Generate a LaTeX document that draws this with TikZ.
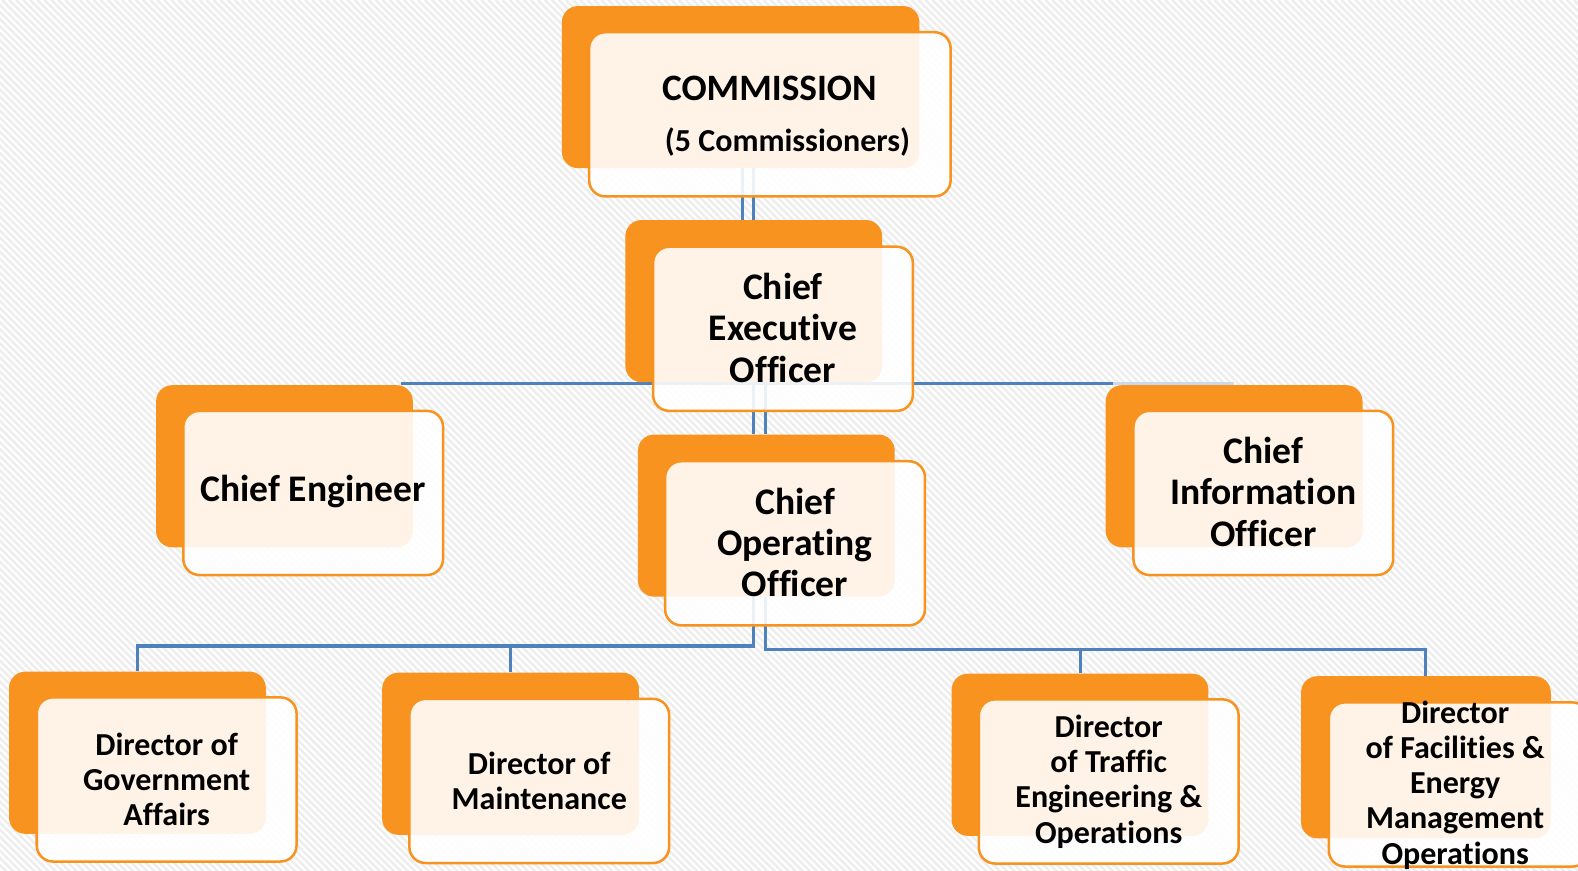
\documentclass[tikz,border=0pt]{standalone}
\usepackage{fontspec}
\setmainfont{Carlito}[Ligatures=NoCommon]
\usetikzlibrary{calc}
\definecolor{orng}{HTML}{F7931E}
\definecolor{connc}{HTML}{4F81BD}
\definecolor{hatchc}{HTML}{EEEEEE}
\pgfdeclarelayer{base}
\pgfdeclarelayer{lines}
\pgfsetlayers{base,lines,main}
\begin{document}
\begin{tikzpicture}[x=1pt,y=-1pt,
  backbox/.style={fill=orng, rounded corners=16pt, minimum width=255pt, minimum height=161pt, inner sep=0pt},
  frontbox/.style={draw=orng, line width=2.5pt, fill=white, fill opacity=0.89, rounded corners=16pt, minimum width=258pt, minimum height=163pt, inner sep=0pt},
  bigtxt/.style={align=center, inner sep=0pt, font=\bfseries\fontsize{37.3}{41}\selectfont},
  dirtxt/.style={align=center, inner sep=0pt, font=\bfseries\fontsize{31.8}{35}\selectfont},
  conn/.style={draw=connc, line width=3pt},
  fadeconn/.style={draw=connc!30, line width=3pt}]
\useasboundingbox (0,0) rectangle (1567,864);
\begin{pgfonlayer}{base}
\fill[white] (0,0) rectangle (1567,864);
\begin{scope}
\clip (0,0) rectangle (1567,864);
\foreach \i in {-880,-873,...,1580} \draw[hatchc, line width=2.5pt] (\i,0) -- (\i+870,870);
\end{scope}
\end{pgfonlayer}

% back boxes
\node[backbox, minimum width=355pt] (commB) at (735.5,86.5) {};
\node[backbox] (ceoB) at (748.5,299) {};
\node[backbox] (ceB) at (282.5,463) {};
\node[backbox] (cooB) at (761,512) {};
\node[backbox] (cioB) at (1225.5,463) {};
\node[backbox] (dgB) at (136.5,747.5) {};
\node[backbox] (dmB) at (507,748.5) {};
\node[backbox] (dtB) at (1072.5,749.5) {};
\node[backbox, minimum width=248pt] (dfB) at (1416,752) {};

% front boxes
\node[frontbox, minimum width=359pt] (comm) at (764.5,113.5) {};
\node[frontbox] (ceo) at (777.5,326.5) {};
\node[frontbox] (ce) at (311,489.5) {};
\node[frontbox] (coo) at (789.5,539.5) {};
\node[frontbox] (cio) at (1254.5,489.5) {};
\node[frontbox] (dg) at (165.5,774) {};
\node[frontbox] (dm) at (535.5,775.5) {};
\node[frontbox] (dt) at (1101,776) {};
\node[frontbox] (df) at (1448.5,779) {};

% connectors (under the boxes)
\begin{pgfonlayer}{lines}
\coordinate (a1) at ($(ceoB.north)+(-11.5,0)$);
\coordinate (a2) at ($(ceoB.north)+(-0.5,0)$);
\draw[conn] (a1 |- commB.south) -- (a1);
\draw[conn] (a2 |- commB.south) -- (a2);
\coordinate (b1) at ($(cooB.north)+(-13,0)$);
\coordinate (b2) at ($(cooB.north)+(-1,0)$);
\draw[conn] (b1 |- ceoB.south) -- (b1);
\draw[conn] (b2 |- ceoB.south) -- (b2);
\coordinate (h1) at ($(ceB.north east)+(-12,-1.5)$);
\coordinate (h2) at ($(h1 -| cioB.west)+(7,0)$);
\draw[conn] (h1) -- (h2);
\draw[fadeconn] (h2) -- (h1 -| cioB.north);
\coordinate (busL) at (0,641.5);
\coordinate (busR) at (0,644.5);
\coordinate (c1) at ($(cooB.south)+(-13,0)$);
\coordinate (c2) at ($(cooB.south)+(-1,0)$);
\draw[conn] (c1) -- (c1 |- busL) -| (dgB.north);
\draw[conn] (c1 |- busL) -| (dmB.north);
\draw[conn] (c2) -- (c2 |- busR) -| (dfB.north);
\draw[conn] (c2 |- busR) -| (dtB.north);
\end{pgfonlayer}

% texts
\node[inner sep=0pt, font=\bfseries\fontsize{37}{41}\selectfont] (commT1) at (764,88) {COMMISSION};
\node[inner sep=0pt, font=\bfseries\fontsize{31.8}{35}\selectfont] (commT2) at (782,141) {(5 Commissioners)};
\node[bigtxt] (ceoT) at ($(ceo)+(0,-1)$) {Chief\\Executive\\Officer};
\node[bigtxt] (ceT) at ($(ce)+(0,-1)$) {Chief Engineer};
\node[bigtxt] (cooT) at ($(coo)+(0,-1)$) {Chief\\Operating\\Officer};
\node[bigtxt] (cioT) at ($(cio)+(0,-1)$) {Chief\\Information\\Officer};
\node[dirtxt] (dgT) at (dg) {Director of\\Government\\Affairs};
\node[dirtxt] (dmT) at (dm) {Director of\\Maintenance};
\node[dirtxt] (dtT) at (dt) {Director\\of Traffic\\Engineering \&\\Operations};
\node[dirtxt] (dfT) at ($(df)+(-3.5,0.5)$) {Director\\of Facilities \&\\Energy\\Management\\Operations};
\end{tikzpicture}
\end{document}
